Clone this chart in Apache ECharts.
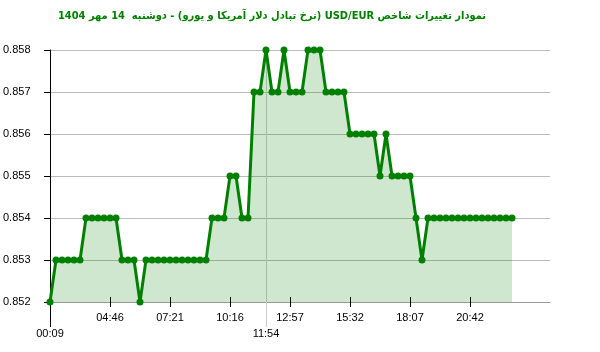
<!DOCTYPE html>
<html>
<head>
<meta charset="utf-8">
<script src="https://cdn.jsdelivr.net/npm/echarts@6/dist/echarts.min.js"></script>
<style>html,body{margin:0;padding:0;background:#fff}#c{width:600px;height:352px}</style>
</head>
<body>
<div id="c"></div>
<script>
const titleText = 'نمودار تغییرات شاخص USD/EUR (نرخ تبادل دلار آمریکا و یورو) - دوشنبه  14 مهر 1404';
const values = [
  0.852,
  0.853, 0.853, 0.853, 0.853, 0.853,
  0.854, 0.854, 0.854, 0.854, 0.854, 0.854,
  0.853, 0.853, 0.853,
  0.852,
  0.853, 0.853, 0.853, 0.853, 0.853, 0.853, 0.853, 0.853, 0.853, 0.853, 0.853,
  0.854, 0.854, 0.854,
  0.855, 0.855,
  0.854, 0.854,
  0.857, 0.857,
  0.858,
  0.857, 0.857,
  0.858,
  0.857, 0.857, 0.857,
  0.858, 0.858, 0.858,
  0.857, 0.857, 0.857, 0.857,
  0.856, 0.856, 0.856, 0.856, 0.856,
  0.855,
  0.856,
  0.855, 0.855, 0.855, 0.855,
  0.854,
  0.853,
  0.854, 0.854, 0.854, 0.854, 0.854, 0.854, 0.854, 0.854, 0.854, 0.854, 0.854, 0.854, 0.854, 0.854, 0.854
];
const tickIndices = [10, 20, 30, 40, 50, 60, 70];
const tickLabels = ['04:46', '07:21', '10:16', '12:57', '15:32', '18:07', '20:42'];
const startIndex = 0, startLabel = '00:09';
const markIndex = 36, markLabel = '11:54';
const yMin = 0.852, yMax = 0.858, yStep = 0.001;
const xSlots = 500 / 6; // axis length in point slots

const chart = echarts.init(document.getElementById('c'), null, {renderer: 'canvas'});
const font = 'Arial, "Liberation Sans", sans-serif';
const baseX = {type: 'value', min: 0, max: xSlots, position: 'bottom', splitLine: {show: false}};
const labelMap = {};
tickIndices.forEach((v, k) => labelMap[v] = tickLabels[k]);
labelMap[startIndex] = startLabel;
labelMap[markIndex] = markLabel;
const fmt = v => labelMap[Math.round(v)] || '';

chart.setOption({
  animation: false,
  title: {
    text: '\u202B' + titleText + '\u202C',
    left: 267, top: 6, textAlign: 'center',
    textStyle: {color: '#008000', fontSize: 11, fontWeight: 'bold', fontFamily: '"DejaVu Sans Condensed", "DejaVu Sans", sans-serif'}
  },
  grid: {left: 50, right: 50, top: 50, bottom: 50},
  xAxis: [
    Object.assign({}, baseX, {
      axisLine: {show: true, lineStyle: {color: '#999', width: 1}},
      axisTick: {show: true, customValues: tickIndices, length: 5, lineStyle: {color: '#000'}},
      axisLabel: {customValues: tickIndices, formatter: fmt, margin: 10, color: '#000', fontSize: 11, fontFamily: font}
    }),
    Object.assign({}, baseX, {
      axisLine: {show: false},
      axisTick: {show: true, inside: true, customValues: tickIndices, length: 5, lineStyle: {color: '#000'}},
      axisLabel: {show: false}
    }),
    Object.assign({}, baseX, {
      axisLine: {show: false},
      axisTick: {show: true, customValues: [startIndex], length: 25, lineStyle: {color: '#000'}},
      axisLabel: {customValues: [startIndex], formatter: fmt, margin: 26, color: '#000', fontSize: 11, fontFamily: font}
    }),
    Object.assign({}, baseX, {
      axisLine: {show: false},
      axisTick: {show: true, customValues: [markIndex], length: 25, lineStyle: {color: '#ccc'}},
      axisLabel: {customValues: [markIndex], formatter: fmt, margin: 26, color: '#000', fontSize: 11, fontFamily: font},
      splitLine: {show: true, lineStyle: {color: '#ccc', width: 1}}
    })
  ],
  yAxis: {
    type: 'value', min: yMin, max: yMax, interval: yStep,
    axisLine: {show: true, lineStyle: {color: '#000'}},
    axisTick: {show: true, length: 6, lineStyle: {color: '#000'}},
    axisLabel: {formatter: v => v.toFixed(3), align: 'left', margin: 47, color: '#000', fontSize: 11, fontFamily: font, padding: [0, 0, 6, 0]},
    splitLine: {show: true, lineStyle: {color: '#bbb', width: 1}}
  },
  series: [{
    type: 'line',
    xAxisIndex: 0,
    data: values.map((v, i) => [i, v]),
    symbol: 'circle', symbolSize: 7, showAllSymbol: true,
    lineStyle: {color: '#008000', width: 3},
    itemStyle: {color: '#008000'},
    areaStyle: {color: 'rgba(0,128,0,0.19)', opacity: 1}
  }]
});
</script>
</body>
</html>
